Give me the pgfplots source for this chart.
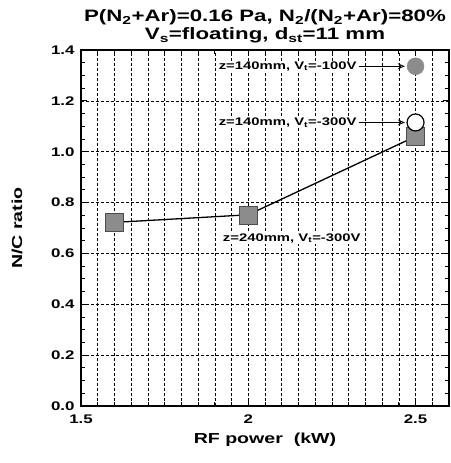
\documentclass[border=0pt]{standalone}
\usepackage{fontspec}
\setmainfont{Liberation Sans}[FakeStretch=1.35]
\usepackage{pgfplots}
\pgfplotsset{compat=1.18}
\usetikzlibrary{arrows.meta}
\definecolor{mk}{HTML}{8C8C8C}

\begin{document}
\begin{tikzpicture}
\begin{axis}[
scale only axis,
width=368pt, height=356pt,
xmin=1.5, xmax=2.6,
ymin=0, ymax=1.4,
xtick={1.5,2,2.5},
xticklabels={1.5,2,2.5},
minor xtick={1.55,1.6,...,2.56},
ytick={0,0.2,...,1.4},
minor y tick num=3,
xmajorgrids, xminorgrids, ymajorgrids,
major grid style={densely dashed, black, line width=0.6pt},
minor grid style={densely dashed, black, line width=0.6pt},
tick align=inside,
major tick length=6pt, minor tick length=4pt,
tick style={black, line width=0.8pt},
axis line style={line width=1.2pt},
/pgf/number format/assume math mode=true,
tick label style={font=\fontsize{12.5}{14}\selectfont\bfseries},
x tick label style={yshift=-5pt},
y tick label style={xshift=-3pt, /pgf/number format/.cd, fixed, fixed zerofill, precision=1, /tikz/.cd},
xlabel={RF power\ \ (kW)},
ylabel={N/C ratio},
label style={font=\fontsize{14.5}{16}\selectfont\bfseries},
xlabel style={at={(axis description cs:0.5,-0.095)}, anchor=center},
ylabel style={at={(axis description cs:-0.174,0.5)}, anchor=center},
title={P(N\textsubscript{2}+Ar)=0.16 Pa, N\textsubscript{2}/(N\textsubscript{2}+Ar)=80\%\\V\textsubscript{s}=floating, d\textsubscript{st}=11 mm},
title style={align=center, font=\fontsize{16.5}{18}\selectfont\bfseries, yshift=-3pt},
]
\addplot[black, line width=1.3pt, mark=square*, mark size=9pt,
  mark options={fill=mk, draw=black!70, line width=0.5pt}] coordinates {
  (1.6,0.722) (2.0,0.752) (2.5,1.06)
};
\addplot[only marks, mark=*, mark size=8.5pt,
  mark options={fill=mk, draw=mk}] coordinates {(2.5,1.336)};
\addplot[only marks, mark=*, mark size=8.5pt,
  mark options={fill=white, draw=black, line width=1.2pt}] coordinates {(2.5,1.115)};

\node[anchor=east, font=\fontsize{11}{12}\selectfont\bfseries, fill=white, inner sep=1pt]
  at (axis cs:2.327,1.336) {z=140mm, V\textsubscript{t}=-100V};
\draw[-{Stealth[open, length=7pt, width=6pt]}, line width=0.8pt]
  (axis cs:2.33,1.336) -- (axis cs:2.468,1.336);
\node[anchor=east, font=\fontsize{11}{12}\selectfont\bfseries, fill=white, inner sep=1pt]
  at (axis cs:2.327,1.115) {z=140mm, V\textsubscript{t}=-300V};
\draw[-{Stealth[open, length=7pt, width=6pt]}, line width=0.8pt]
  (axis cs:2.33,1.115) -- (axis cs:2.468,1.115);
\node[font=\fontsize{11}{12}\selectfont\bfseries, fill=white, inner sep=1pt]
  at (axis cs:2.13,0.66) {z=240mm, V\textsubscript{t}=-300V};
\end{axis}
\pgfresetboundingbox
\path ([shift={(-81pt,-57pt)}]current axis.south west) rectangle ([shift={(1pt,50pt)}]current axis.north east);
\end{tikzpicture}
\end{document}
